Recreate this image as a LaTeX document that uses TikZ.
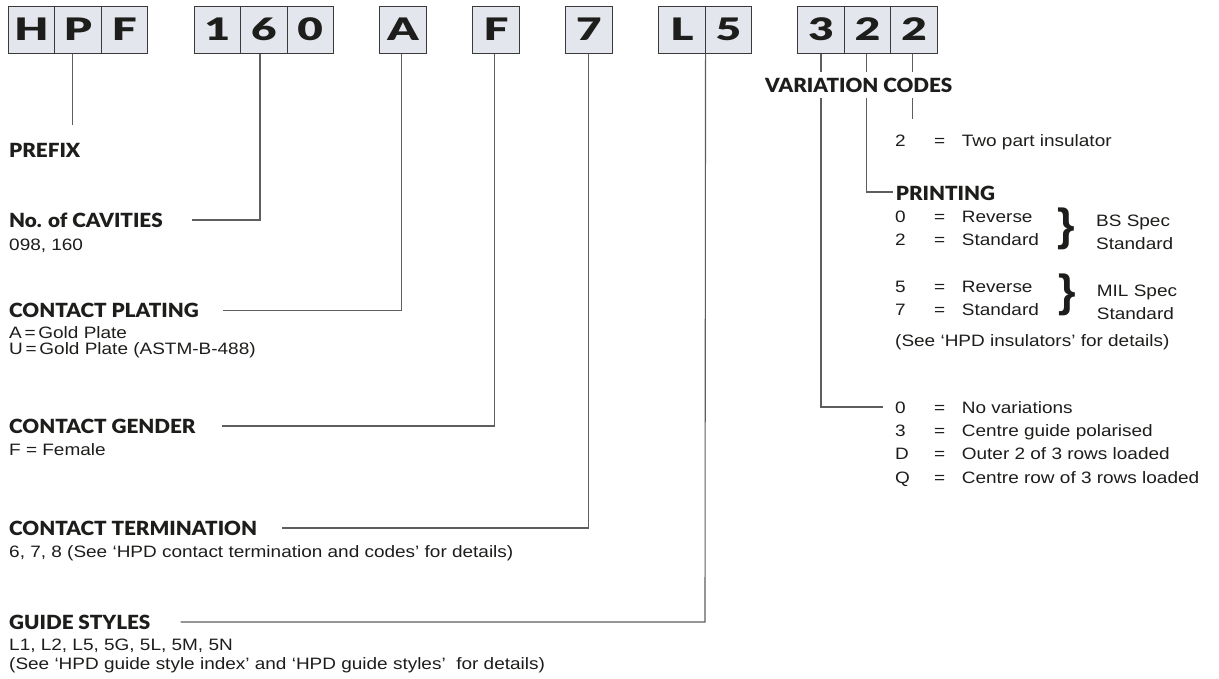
\documentclass[tikz,border=0pt]{standalone}
\usepackage{fontspec}
\setmainfont{Liberation Sans}
\newfontfamily\bodyfont{Liberation Sans}[FakeStretch=1.15]
\newfontfamily\hdrfont{Lato Black}[FakeStretch=1.06]
\newfontfamily\boxfont{Lato Black}[FakeStretch=1.42]
\newfontfamily\bracefont{Liberation Sans Bold}
\definecolor{boxfill}{HTML}{E3E6EC}
\definecolor{boxline}{HTML}{3A3A3A}
\definecolor{connc}{HTML}{5E5E5E}
\definecolor{txt}{HTML}{1D1D1B}
\begin{document}
\begin{tikzpicture}[x=1pt,y=-1pt,
  codebox/.style={draw=boxline, fill=boxfill, line width=1pt, minimum width=46.45pt,
    minimum height=47pt, inner sep=0pt, font=\boxfont\fontsize{31}{31}\selectfont, text=txt},
  hdr/.style={anchor=base west, inner sep=0pt, font=\hdrfont\fontsize{19.5}{22}\selectfont, text=txt},
  body/.style={anchor=base west, inner sep=0pt, font=\bodyfont\fontsize{16.5}{20}\selectfont, text=txt},
  bracechar/.style={inner sep=0pt, font=\bracefont\fontsize{45}{45}\selectfont, text=txt},
  conn/.style={draw=connc, line width=1.1pt},
]
\fill[white] (0,0) rectangle (1219,678);
\useasboundingbox (0,0) rectangle (1219,678);

% code boxes
\foreach \k/\t in {0/H,1/P,2/F,4/1,5/6,6/0,8/A,10/F,12/7,14/L,15/5,17/3,18/2,19/2}
  \node[codebox] (b\k) at ({8.3+46.45*(\k+0.5)},29.5) {\t};

% connector end points
\coordinate (pfxE) at (72.7,125);
\coordinate (cavC) at (260,220);
\coordinate (cavE) at (191.7,220);
\coordinate (pltC) at (401.7,310.5);
\coordinate (pltE) at (222.7,310.5);
\coordinate (genC) at (494.3,426);
\coordinate (genE) at (221.5,426);
\coordinate (trmC) at (588.3,528);
\coordinate (trmE) at (282,528);
\coordinate (gdC) at (705,622);
\coordinate (gdE) at (180.5,622);
\coordinate (insE) at (912.7,119);
\coordinate (prtC) at (866.7,192);
\coordinate (prtE) at (893,192);
\coordinate (varC) at (821,407);
\coordinate (varE) at (883.3,407);

% connectors
\draw[conn] (b1.south -| pfxE) -- (pfxE);
\draw[conn] (b5.south -| cavC) -- (cavC) -- (cavE);
\draw[conn] (b8.south -| pltC) -- (pltC) -- (pltE);
\draw[conn] (b10.south -| genC) -- (genC) -- (genE);
\draw[conn] (b12.south -| trmC) -- (trmC) -- (trmE);
\draw[conn] (b14.south east) -- (gdC) -- (gdE);
\draw[conn] (b19.south -| insE) -- (insE);
\draw[conn] (b18.south -| prtC) -- (prtC) -- (prtE);
\draw[conn] (b17.south -| varC) -- (varC) -- (varE);

% right column
\node[hdr, fill=white, inner xsep=2pt, inner ysep=6pt] (vc) at (763,92) {VARIATION CODES};
\node[body] (ins) at (895,146) {\makebox[39pt][l]{2}\makebox[27.7pt][l]{=}Two part insulator};
\node[hdr] (prt) at (895.7,200) {PRINTING};
\node[body] (p0) at (895,222.7) {\makebox[39pt][l]{0}\makebox[27.7pt][l]{=}Reverse};
\node[body] (p2) at (895,245.7) {\makebox[39pt][l]{2}\makebox[27.7pt][l]{=}Standard};
\node[bracechar] (br1) at (1066,229) {\}};
\node[body] (bs1) at (1096,226.7) {BS Spec};
\node[body] (bs2) at (1096,249) {Standard};
\node[body] (p5) at (895,292.3) {\makebox[39pt][l]{5}\makebox[27.7pt][l]{=}Reverse};
\node[body] (p7) at (895,315) {\makebox[39pt][l]{7}\makebox[27.7pt][l]{=}Standard};
\node[bracechar] (br2) at (1067,295) {\}};
\node[body] (mil1) at (1096.7,296) {MIL Spec};
\node[body] (mil2) at (1096.7,319) {Standard};
\node[body] (insn) at (895,346) {(See ‘HPD insulators’ for details)};
\node[body] (v0) at (895,413) {\makebox[39pt][l]{0}\makebox[27.7pt][l]{=}No variations};
\node[body] (v3) at (895,436.3) {\makebox[39pt][l]{3}\makebox[27.7pt][l]{=}Centre guide polarised};
\node[body] (vD) at (895,459.7) {\makebox[39pt][l]{D}\makebox[27.7pt][l]{=}Outer 2 of 3 rows loaded};
\node[body] (vQ) at (895,483) {\makebox[39pt][l]{Q}\makebox[27.7pt][l]{=}Centre row of 3 rows loaded};

% left column
\node[hdr] (pfx) at (9,157) {PREFIX};
\node[hdr] (cav) at (9,227) {No. of CAVITIES};
\node[body] (cavv) at (9,250.7) {098, 160};
\node[hdr] (plt) at (9,317.5) {CONTACT PLATING};
\node[body] (pltA) at (9,338.5) {A\,=\,Gold Plate};
\node[body] (pltU) at (9,354.5) {U\,=\,Gold Plate (ASTM-B-488)};
\node[hdr] (gen) at (9,433) {CONTACT GENDER};
\node[body] (genF) at (9,455) {F = Female};
\node[hdr] (trm) at (9,535) {CONTACT TERMINATION};
\node[body] (trmv) at (9,557) {6, 7, 8 (See ‘HPD contact termination and codes’ for details)};
\node[hdr] (gd) at (9,629) {GUIDE STYLES};
\node[body] (gd1) at (9,650) {L1, L2, L5, 5G, 5L, 5M, 5N};
\node[body] (gd2) at (9,669) {(See ‘HPD guide style index’ and ‘HPD guide styles’\ \ for details)};
\end{tikzpicture}
\end{document}
